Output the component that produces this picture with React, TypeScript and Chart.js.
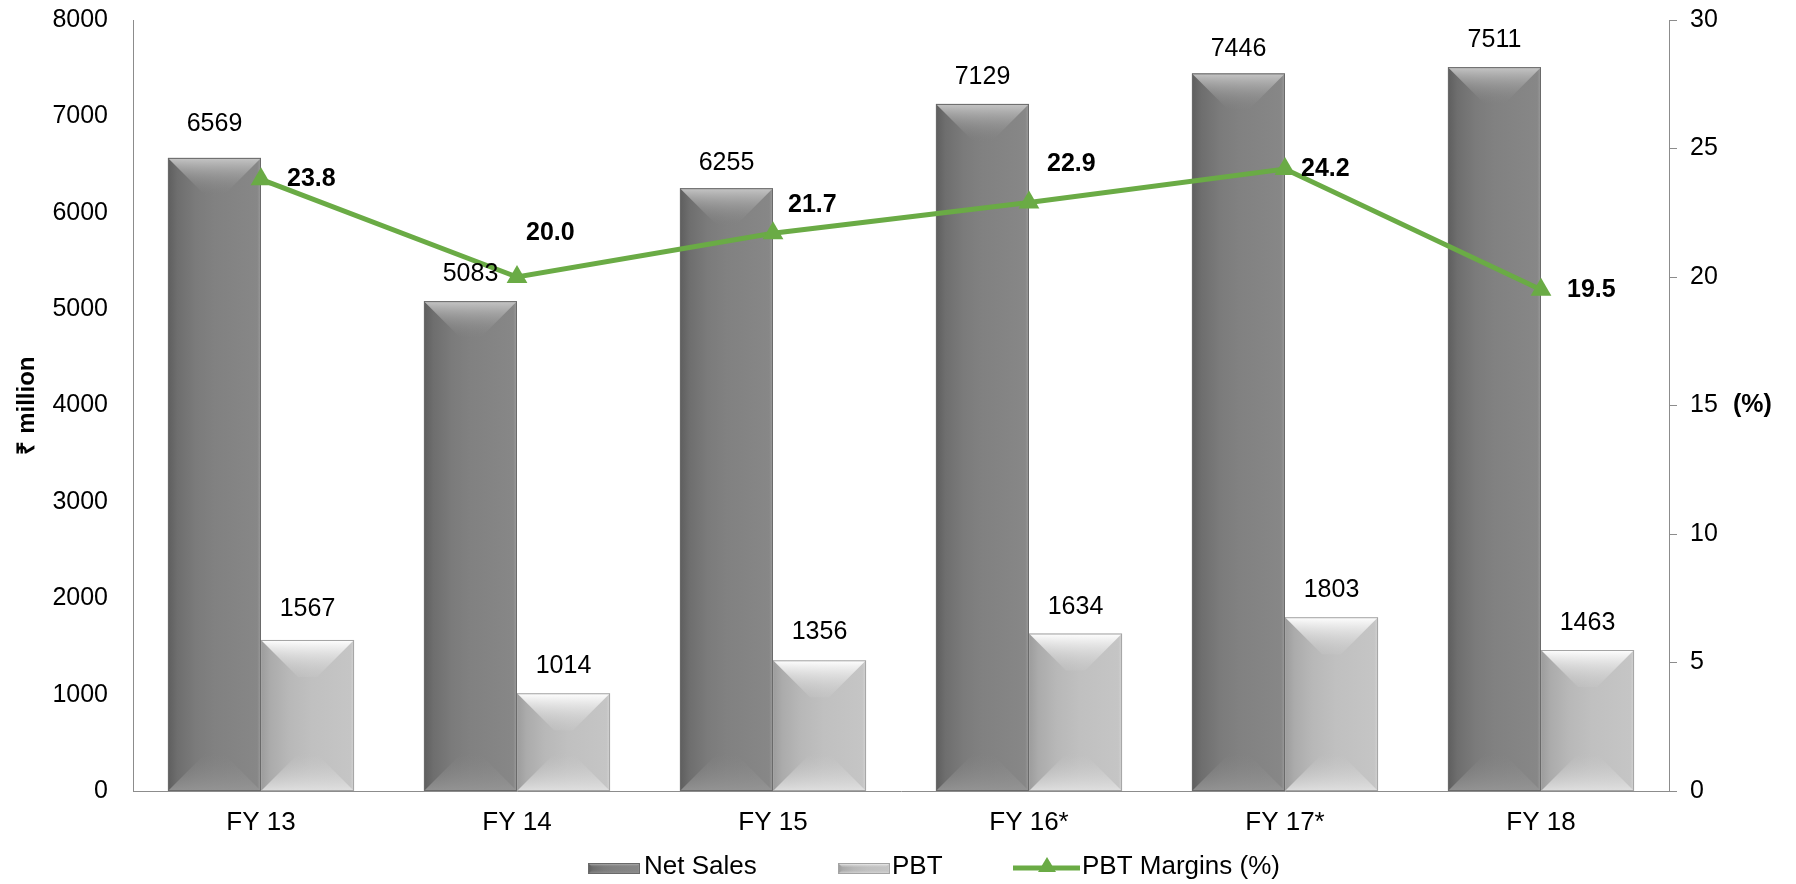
import React, { useEffect, useRef } from 'react';
import { Chart, registerables } from 'chart.js';

Chart.register(...registerables);

// ---------- data ----------
const categories = ['FY 13', 'FY 14', 'FY 15', 'FY 16*', 'FY 17*', 'FY 18'];
const netSales = [6569, 5083, 6255, 7129, 7446, 7511];
const pbt = [1567, 1014, 1356, 1634, 1803, 1463];
const pbtMargins = [23.8, 20.0, 21.7, 22.9, 24.2, 19.5];
const leftAxisMax = 8000;
const leftAxisStep = 1000;
const rightAxisMax = 30;
const rightAxisStep = 5;
const legendLabels = ['Net Sales', 'PBT', 'PBT Margins (%)'];

// ---------- styles ----------
const FONT = '"Liberation Sans", Arial, Helvetica, sans-serif';
const GREEN = '#6aab45';
const AXIS = '#8c8c8c';
// label placement offsets (px)
const marginLabelOffsets: [number, number][] = [
  [26, 0], [9, -44], [15, -28], [18, -38], [16, 0], [26, 0],
];
const netSalesLabelGap = [34, 27, 25, 27, 24, 27];
const pbtLabelGap = [31, 27, 28, 26, 27, 27];

type Pal = {
  body: [number, string][];
  topA: string; topB: string;
  botA: string; botB: string;
  edge: string;
};
const darkPal: Pal = {
  body: [[0, '#5e5e5e'], [0.1, '#6e6e6e'], [0.3, '#7b7b7b'], [0.5, '#818181'], [0.96, '#878787'], [1, '#9c9c9c']],
  topA: '#c6c6c6', topB: 'rgba(135,135,135,0.0)',
  botA: 'rgba(150,150,150,0.9)', botB: 'rgba(135,135,135,0)',
  edge: '#6a6a6a',
};
const lightPal: Pal = {
  body: [[0, '#9c9c9c'], [0.1, '#ababab'], [0.3, '#b8b8b8'], [0.55, '#c0c0c0'], [0.96, '#c5c5c5'], [1, '#d2d2d2']],
  topA: '#ffffff', topB: 'rgba(205,205,205,0.2)',
  botA: 'rgba(225,225,225,0.95)', botB: 'rgba(200,200,200,0)',
  edge: '#a4a4a4',
};

function drawBevelBar(ctx: CanvasRenderingContext2D, x0: number, x1: number, top: number, bottom: number, pal: Pal, depth: number) {
  const w = x1 - x0;
  const h = bottom - top;
  if (h <= 0 || w <= 0) return;
  const d = Math.min(depth, w / 2.5, h / 2);
  ctx.save();
  const g = ctx.createLinearGradient(x0, 0, x1, 0);
  pal.body.forEach(([s, c]) => g.addColorStop(s, c));
  ctx.fillStyle = g;
  ctx.fillRect(x0, top, w, h);
  const tg = ctx.createLinearGradient(0, top, 0, top + d);
  tg.addColorStop(0, pal.topA);
  tg.addColorStop(1, pal.topB);
  ctx.fillStyle = tg;
  ctx.beginPath();
  ctx.moveTo(x0, top); ctx.lineTo(x1, top); ctx.lineTo(x1 - d, top + d); ctx.lineTo(x0 + d, top + d);
  ctx.closePath(); ctx.fill();
  const bg = ctx.createLinearGradient(0, bottom, 0, bottom - d);
  bg.addColorStop(0, pal.botA);
  bg.addColorStop(1, pal.botB);
  ctx.fillStyle = bg;
  ctx.beginPath();
  ctx.moveTo(x0, bottom); ctx.lineTo(x1, bottom); ctx.lineTo(x1 - d, bottom - d); ctx.lineTo(x0 + d, bottom - d);
  ctx.closePath(); ctx.fill();
  ctx.strokeStyle = pal.edge;
  ctx.lineWidth = 1;
  ctx.strokeRect(x0 + 0.5, top + 0.5, w - 1, h - 1);
  ctx.restore();
}

const bevelBarsPlugin = {
  id: 'bevelBars',
  afterDatasetDraw(chart: any, args: any) {
    const meta = args.meta;
    if (meta.type !== 'bar') return;
    const pal = meta.index === 1 ? darkPal : lightPal;
    const ctx = chart.ctx;
    meta.data.forEach((el: any) => {
      const { x, y, base, width } = el.getProps(['x', 'y', 'base', 'width'], true);
      drawBevelBar(ctx, x - width / 2, x + width / 2, y, base, pal, 37);
    });
  },
};

const labelsPlugin = {
  id: 'valueLabels',
  afterDatasetsDraw(chart: any) {
    const ctx = chart.ctx;
    ctx.save();
    ctx.fillStyle = '#000';
    ctx.font = `25px ${FONT}`;
    ctx.textAlign = 'center';
    ctx.textBaseline = 'middle';
    [1, 2].forEach((di) => {
      const meta = chart.getDatasetMeta(di);
      const vals = chart.data.datasets[di].data as number[];
      const gaps = di === 1 ? netSalesLabelGap : pbtLabelGap;
      meta.data.forEach((el: any, i: number) => {
        ctx.fillText(String(vals[i]), el.x, el.y - gaps[i]);
      });
    });
    ctx.font = `bold 25px ${FONT}`;
    ctx.textAlign = 'left';
    const lm = chart.getDatasetMeta(0);
    lm.data.forEach((el: any, i: number) => {
      const [dx, dy] = marginLabelOffsets[i];
      ctx.fillText(pbtMargins[i].toFixed(1), el.x + dx, el.y + dy);
    });
    ctx.restore();
  },
  afterDraw(chart: any) {
    const ctx = chart.ctx;
    ctx.save();
    const y1 = chart.scales.y1;
    ctx.fillStyle = '#000';
    ctx.font = `bold 25px ${FONT}`;
    ctx.textAlign = 'left';
    ctx.textBaseline = 'middle';
    ctx.fillText('(%)', 1733, y1.getPixelForValue(15));

    const ly = 867;
    ctx.font = `26px ${FONT}`;
    drawBevelBar(ctx, 588, 640, 863, 874, darkPal, 4);
    ctx.fillStyle = '#000';
    ctx.fillText(legendLabels[0], 644, ly);
    drawBevelBar(ctx, 838, 890, 863, 874, lightPal, 4);
    ctx.fillStyle = '#000';
    ctx.fillText(legendLabels[1], 892, ly);
    ctx.strokeStyle = GREEN;
    ctx.lineWidth = 5;
    ctx.beginPath();
    ctx.moveTo(1013, 868); ctx.lineTo(1080, 868);
    ctx.stroke();
    ctx.fillStyle = GREEN;
    ctx.beginPath();
    ctx.moveTo(1047, 857); ctx.lineTo(1056, 872); ctx.lineTo(1038, 872); ctx.closePath();
    ctx.fill();
    ctx.fillStyle = '#000';
    ctx.fillText(legendLabels[2], 1082, ly);
    ctx.restore();
  },
};

export default function App() {
  const ref = useRef<HTMLCanvasElement>(null);
  useEffect(() => {
    if (!ref.current) return;
    const noPad = (s: any) => { s.paddingTop = 0; s.paddingBottom = 0; };
    const chart = new Chart(ref.current, {
      type: 'bar',
      data: {
        labels: categories,
        datasets: [
          {
            type: 'line',
            label: legendLabels[2],
            data: pbtMargins,
            yAxisID: 'y1',
            borderColor: GREEN,
            backgroundColor: GREEN,
            borderWidth: 5,
            pointStyle: 'triangle',
            pointRadius: 12,
            pointBackgroundColor: GREEN,
            pointBorderColor: GREEN,
            pointBorderWidth: 0,
            tension: 0,
            order: 0,
          } as any,
          {
            type: 'bar',
            label: legendLabels[0],
            data: netSales,
            yAxisID: 'y',
            backgroundColor: 'rgba(0,0,0,0)',
            borderWidth: 0,
            categoryPercentage: 0.727,
            barPercentage: 1,
            order: 1,
          },
          {
            type: 'bar',
            label: legendLabels[1],
            data: pbt,
            yAxisID: 'y',
            backgroundColor: 'rgba(0,0,0,0)',
            borderWidth: 0,
            categoryPercentage: 0.727,
            barPercentage: 1,
            order: 1,
          },
        ],
      },
      options: {
        responsive: false,
        animation: false,
        layout: { padding: { top: 20, left: 0, right: 0, bottom: 0 } },
        plugins: {
          legend: { display: false },
          tooltip: { enabled: false },
        },
        scales: {
          x: {
            grid: { display: false, drawTicks: false },
            border: { display: true, color: AXIS, width: 1 },
            ticks: { color: '#000', font: { family: FONT, size: 26 }, padding: 16 },
            afterFit: (s: any) => { s.height = 93; },
          },
          y: {
            position: 'left',
            min: 0,
            max: leftAxisMax,
            ticks: {
              stepSize: leftAxisStep, color: '#000', font: { family: FONT, size: 25 }, padding: 25,
              callback: (v: any) => String(v),
            },
            grid: { display: false, drawTicks: false },
            border: { display: true, color: AXIS, width: 1 },
            title: {
              display: true,
              text: '₹ million',
              color: '#000',
              font: { family: FONT, size: 24, weight: 'bold' },
              padding: { top: 13, bottom: 0 },
            },
            afterFit: (s: any) => { s.width = 133; noPad(s); },
          },
          y1: {
            position: 'right',
            min: 0,
            max: rightAxisMax,
            ticks: {
              stepSize: rightAxisStep, color: '#000', font: { family: FONT, size: 25 }, padding: 13,
              callback: (v: any) => String(v),
            },
            grid: { display: true, drawOnChartArea: false, drawTicks: true, tickLength: 8, color: AXIS },
            border: { display: true, color: AXIS, width: 1 },
            afterFit: (s: any) => { s.width = 127; noPad(s); },
          },
        },
      },
      plugins: [bevelBarsPlugin, labelsPlugin],
    });
    return () => chart.destroy();
  }, []);
  return (
    <div style={{ position: 'fixed', left: 0, top: 0, width: 1796, height: 884, background: '#fff' }}>
      <canvas ref={ref} width={1796} height={884} style={{ display: 'block' }} />
    </div>
  );
}
